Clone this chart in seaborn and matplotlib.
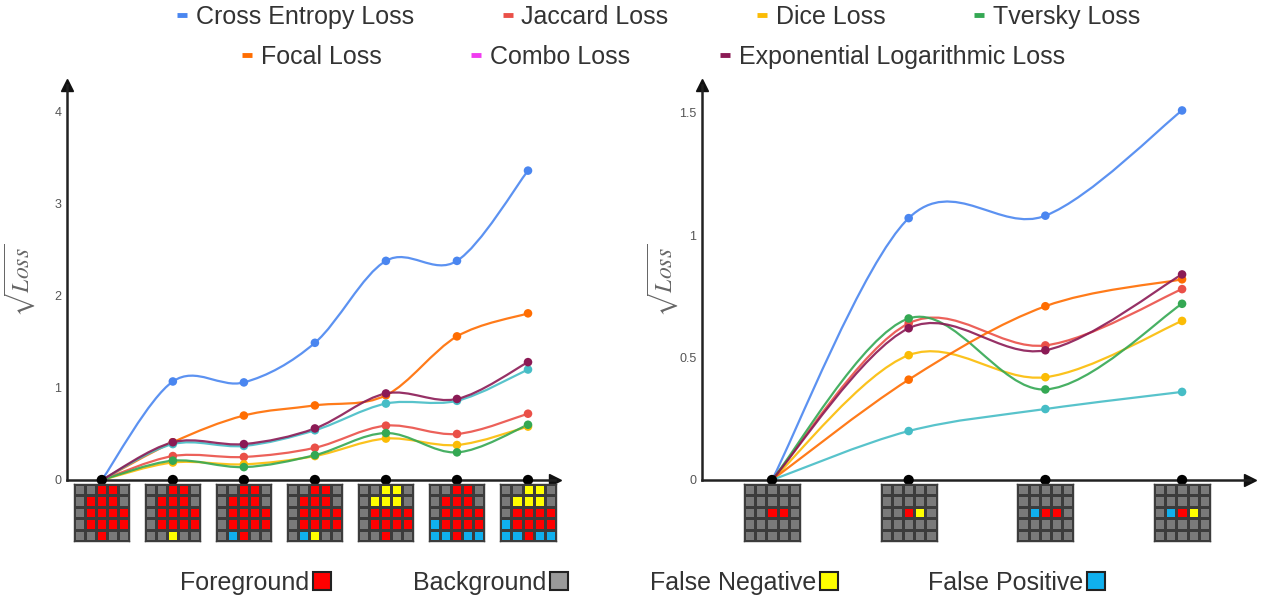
import numpy as np
import pandas as pd
import matplotlib
matplotlib.use('Agg')
import matplotlib.pyplot as plt
from matplotlib.path import Path
from matplotlib.patches import PathPatch
from matplotlib.lines import Line2D
from matplotlib.colors import ListedColormap
import seaborn as sns

# ---- data ----
losses = ['Cross Entropy Loss', 'Jaccard Loss', 'Dice Loss', 'Tversky Loss',
          'Focal Loss', 'Combo Loss', 'Exponential Logarithmic Loss']

steps_left = [0, 1, 2, 3, 4, 5, 6]
ce_left = [0, 1.07, 1.06, 1.49, 2.38, 2.38, 3.36]
jaccard_left = [0, 0.26, 0.25, 0.35, 0.59, 0.50, 0.72]
dice_left = [0, 0.19, 0.17, 0.26, 0.45, 0.38, 0.58]
tversky_left = [0, 0.21, 0.14, 0.27, 0.51, 0.30, 0.60]
focal_left = [0, 0.41, 0.70, 0.81, 0.92, 1.56, 1.81]
combo_left = [0, 0.39, 0.37, 0.54, 0.83, 0.86, 1.20]
explog_left = [0, 0.41, 0.39, 0.56, 0.94, 0.88, 1.28]

steps_right = [0, 1, 2, 3]
ce_right = [0, 1.07, 1.08, 1.51]
jaccard_right = [0, 0.64, 0.55, 0.78]
dice_right = [0, 0.51, 0.42, 0.65]
tversky_right = [0, 0.66, 0.37, 0.72]
focal_right = [0, 0.41, 0.71, 0.82]
combo_right = [0, 0.20, 0.29, 0.36]
explog_right = [0, 0.62, 0.53, 0.84]

# 5x5 masks: g = background, r = foreground, y = false negative, b = false positive
grids_left = [
    ['ggrrg', 'grrrg', 'grrrr', 'grrrr', 'ggrgg'],
    ['ggrrg', 'grrrg', 'grrrr', 'grrrr', 'ggygg'],
    ['ggrrg', 'grrrg', 'grrrr', 'grrrr', 'gbrgg'],
    ['ggrrg', 'grrrg', 'grrrr', 'grrrr', 'gbygg'],
    ['ggyyg', 'gyyyg', 'grrrr', 'grrrr', 'ggrgg'],
    ['ggrrg', 'grrrg', 'grrrr', 'brrrr', 'bbrbb'],
    ['ggyyg', 'gyyyg', 'grrrr', 'brrrr', 'bbrbb'],
]
grids_right = [
    ['ggggg', 'ggggg', 'ggrrg', 'ggggg', 'ggggg'],
    ['ggggg', 'ggggg', 'ggryg', 'ggggg', 'ggggg'],
    ['ggggg', 'ggggg', 'gbrrg', 'ggggg', 'ggggg'],
    ['ggggg', 'ggggg', 'gbryg', 'ggggg', 'ggggg'],
]

line_colors = {
    'Cross Entropy Loss': '#4a86f0',
    'Jaccard Loss': '#ea5048',
    'Dice Loss': '#fbbc05',
    'Tversky Loss': '#34a853',
    'Focal Loss': '#ff6d01',
    'Combo Loss': '#46bdc6',
    'Exponential Logarithmic Loss': '#8b1a55',
}
legend_colors = dict(line_colors)
legend_colors['Combo Loss'] = '#f03cf0'

cell_codes = {'g': 0, 'r': 1, 'y': 2, 'b': 3}
cell_cmap = ListedColormap(['#7a7a7a', '#ff0000', '#ffff00', '#10b0ee'])

left_series = [ce_left, jaccard_left, dice_left, tversky_left, focal_left, combo_left, explog_left]
right_series = [ce_right, jaccard_right, dice_right, tversky_right, focal_right, combo_right, explog_right]


def smooth_path(xs, ys):
    # Catmull-Rom through the data points, as cubic Bezier segments
    pts = np.column_stack([xs, ys]).astype(float)
    ext = np.vstack([pts[0], pts, pts[-1]])
    verts = [pts[0]]
    codes = [Path.MOVETO]
    for i in range(len(pts) - 1):
        p0, p1, p2, p3 = ext[i], ext[i + 1], ext[i + 2], ext[i + 3]
        verts += [p1 + (p2 - p0) / 6, p2 - (p3 - p1) / 6, p2]
        codes += [Path.CURVE4] * 3
    return Path(verts, codes)


def draw_panel(ax, steps, series, grids, ylim, xlim, yticks, yticklabels, gw, gh):
    rows = []
    for name, vals in zip(losses, series):
        ax.add_patch(PathPatch(smooth_path(steps, vals), fill=False,
                               edgecolor=line_colors[name], lw=1.6, alpha=0.9, zorder=2))
        for s, v in zip(steps, vals):
            rows.append({'step': s, 'value': v, 'loss': name})
    df = pd.DataFrame(rows)
    sns.scatterplot(ax=ax, data=df, x='step', y='value', hue='loss',
                    palette=line_colors, s=38, edgecolor='none', legend=False, zorder=3)
    sns.scatterplot(ax=ax, x=steps, y=[0] * len(steps), color='black', s=55,
                    edgecolor='none', legend=False, zorder=5)
    for c in ax.collections:
        c.set_clip_on(False)

    ax.set_xlim(xlim)
    ax.set_ylim(ylim)
    ax.set_xticks([])
    ax.set_yticks(yticks)
    ax.set_yticklabels(yticklabels)
    ax.set_xlabel('')
    ax.tick_params(axis='y', direction='out', length=3, width=1, colors='#555555',
                   labelsize=9, pad=1)
    for sp in ['top', 'right']:
        ax.spines[sp].set_visible(False)
    for sp in ['left', 'bottom']:
        ax.spines[sp].set_color('#222222')
        ax.spines[sp].set_linewidth(1.8)
    ax.plot([0], [1], marker='^', color='#111111', ms=9, transform=ax.transAxes, clip_on=False)
    ax.plot([1], [0], marker='>', color='#111111', ms=9, transform=ax.transAxes, clip_on=False)
    ax.set_ylabel(r'$\sqrt{Loss}$', fontsize=17, color='#666666')

    # pixel grids under each step
    for s, g in zip(steps, grids):
        mat = np.array([[cell_codes[ch] for ch in row] for row in g])
        iax = ax.inset_axes([s - gw / 2, -0.01 * ylim[1] - gh, gw, gh], transform=ax.transData)
        sns.heatmap(mat, ax=iax, cmap=cell_cmap, vmin=-0.5, vmax=3.5, cbar=False,
                    linewidths=1.0, linecolor='#3c3c3c', xticklabels=False, yticklabels=False)
        for sp in iax.spines.values():
            sp.set_visible(True)
            sp.set_color('#3c3c3c')
            sp.set_linewidth(1)


sns.set_style('white')
plt.rcParams['font.family'] = ['Liberation Sans', 'DejaVu Sans']
plt.rcParams['mathtext.fontset'] = 'stix'

W, H = 1269, 601
fig = plt.figure(figsize=(W / 100, H / 100), dpi=100)

ax1 = fig.add_axes([67 / W, 1 - 480 / H, 488 / W, 395 / H])
draw_panel(ax1, steps_left, left_series, grids_left,
           ylim=(0, 4.29), xlim=(-0.49, 6.38),
           yticks=[0, 1, 2, 3, 4], yticklabels=['0', '1', '2', '3', '4'],
           gw=0.775, gh=0.62)
ax1.yaxis.set_label_coords(-0.062, 0.506)

ax2 = fig.add_axes([702 / W, 1 - 480 / H, 548 / W, 395 / H])
draw_panel(ax2, steps_right, right_series, grids_right,
           ylim=(0, 1.614), xlim=(-0.512, 3.497),
           yticks=[0, 0.5, 1, 1.5], yticklabels=['0', '0.5', '1', '1.5'],
           gw=0.41, gh=0.233)
ax2.yaxis.set_label_coords(-0.04, 0.506)

# top legend, two centred rows
def loss_handle(name):
    return Line2D([], [], color=legend_colors[name], lw=3.5, solid_capstyle='butt')

row1 = losses[:4]
row2 = losses[4:]
fig.legend([loss_handle(n) for n in row1], row1, loc='center', bbox_to_anchor=(0.519, 1 - 17 / H),
           ncol=4, frameon=False, fontsize=18, handlelength=0.4, handletextpad=0.35,
           columnspacing=3.55, labelcolor='#333333', borderaxespad=0, borderpad=0)
fig.legend([loss_handle(n) for n in row2], row2, loc='center', bbox_to_anchor=(0.515, 1 - 57 / H),
           ncol=3, frameon=False, fontsize=18, handlelength=0.4, handletextpad=0.35,
           columnspacing=3.6, labelcolor='#333333', borderaxespad=0, borderpad=0)

# bottom legend for the pixel grids
cell_labels = ['Foreground', 'Background', 'False Negative', 'False Positive']
cell_colors = ['#ff0000', '#9a9a9a', '#ffff00', '#10b0ee']
cell_x = [180, 413, 650, 928]
for lab, col, px in zip(cell_labels, cell_colors, cell_x):
    h = Line2D([], [], marker='s', ls='', ms=13, mfc=col, mec='#222222', mew=1.5)
    fig.legend([h], [lab], loc='center left', bbox_to_anchor=(px / W, 1 - 583 / H),
               frameon=False, fontsize=18, markerfirst=False, handlelength=0.8,
               handletextpad=0.1, labelcolor='#333333', borderaxespad=0, borderpad=0)

fig.savefig('out.png', dpi=100)
